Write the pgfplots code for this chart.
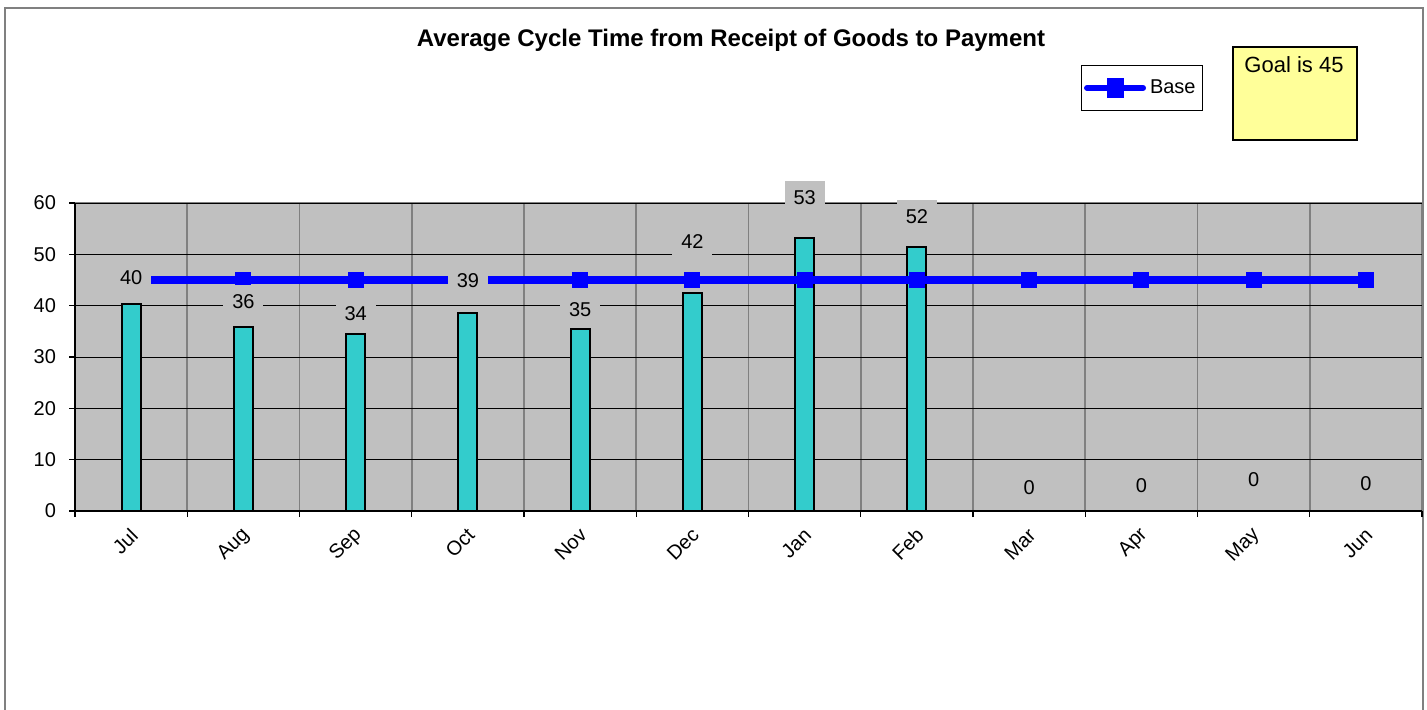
\documentclass[border=0pt]{standalone}
\usepackage{pgfplots}
\pgfplotsset{compat=1.18}
\usepackage{fontspec}
\setmainfont{Liberation Sans}
\definecolor{plotgray}{HTML}{C0C0C0}
\definecolor{barcol}{HTML}{33CCCC}
\definecolor{goalyellow}{HTML}{FFFF99}
\definecolor{framegray}{HTML}{808080}
\newcommand{\ften}{\fontsize{10}{12}\selectfont}
\begin{document}
\begin{tikzpicture}[x=1pt,y=1pt]
\useasboundingbox (0,0) rectangle (713.5,354.5);
\draw[framegray, line width=1pt] (2.5,-5) rectangle (711.5,350.5);
\begin{axis}[
  scale only axis, width=673.5pt, height=154pt,
  at={(37.5pt,99pt)}, anchor=south west,
  xmin=-0.5, xmax=11.5, ymin=0, ymax=60,
  clip=false,
  axis background/.style={fill=plotgray, draw=framegray, line width=1pt},
  axis x line*=bottom, axis y line*=left,
  axis line style={black, line width=0.8pt, -},
  ytick={0,10,...,60},
  xtick={0,...,11},
  xticklabels={Jul,Aug,Sep,Oct,Nov,Dec,Jan,Feb,Mar,Apr,May,Jun},
  minor xtick={-0.5,0.5,...,11.5},
  tick align=outside,
  major tick length=3pt, minor tick length=3pt,
  major x tick style={draw=none},
  tick style={black, line width=0.6pt},
  ymajorgrids=true, xminorgrids=true, xmajorgrids=false,
  y grid style={black, line width=0.5pt},
  x grid style={framegray, line width=0.9pt},
  /pgf/number format/assume math mode=true,
  yticklabel style={font=\ften, xshift=-3pt},
  xticklabel style={font=\ften, xshift=4pt, yshift=-5pt, rotate=45, anchor=east},
  legend style={at={(rel axis cs:0.8375,1.448)}, anchor=north east, draw=black, line width=0.5pt, font=\ften, fill=white, inner ysep=5pt, inner xsep=1.5pt},
  legend image code/.code={
    \draw[blue, line width=3pt, line cap=round] (0pt,0pt) -- (28pt,0pt);
    \fill[blue] (11.75pt,-3pt) rectangle (16.25pt,3pt);
  },
]
\addplot[ybar, bar width=9.5pt, fill=barcol, draw=black, line width=1pt, forget plot]
  coordinates {(0,40.3) (1,35.9) (2,34.4) (3,38.5) (4,35.4) (5,42.4) (6,53.2) (7,51.5) (8,0) (9,0) (10,0) (11,0)};
\addplot[blue, line width=4pt, mark=square*, mark size=3.75pt, mark options={line width=0pt, fill=blue, draw=blue}]
  coordinates {(0,45) (1,45) (2,45) (3,45) (4,45) (5,45) (6,45) (7,45) (8,45) (9,45) (10,45) (11,45)};
\addlegendentry{Base}
\addplot[only marks, mark=none, forget plot, point meta=explicit symbolic,
  nodes near coords,
  nodes near coords style={anchor=center, fill=plotgray, minimum width=20pt, minimum height=16.5pt, inner sep=0pt, font=\ften}]
  coordinates {(0,45.4)[40] (1,40.8)[36] (2,38.5)[34] (3,44.9)[39] (4,39.3)[35] (5,52.5)[42] (6,61.1)[53] (7,57.4)[52] (8,4.5)[0] (9,4.9)[0] (10,6.2)[0] (11,5.4)[0]};
\end{axis}
\node[font=\bfseries\fontsize{12}{14}\selectfont, anchor=base] at (365.5,331.25) {Average Cycle Time from Receipt of Goods to Payment};
\node[draw=black, line width=1pt, fill=goalyellow, minimum width=62pt, minimum height=46.5pt, anchor=north west, inner sep=0pt] at (616,331.5) {};
\node[font=\fontsize{11}{13}\selectfont] at (647,322) {Goal is 45};
\end{tikzpicture}
\end{document}
